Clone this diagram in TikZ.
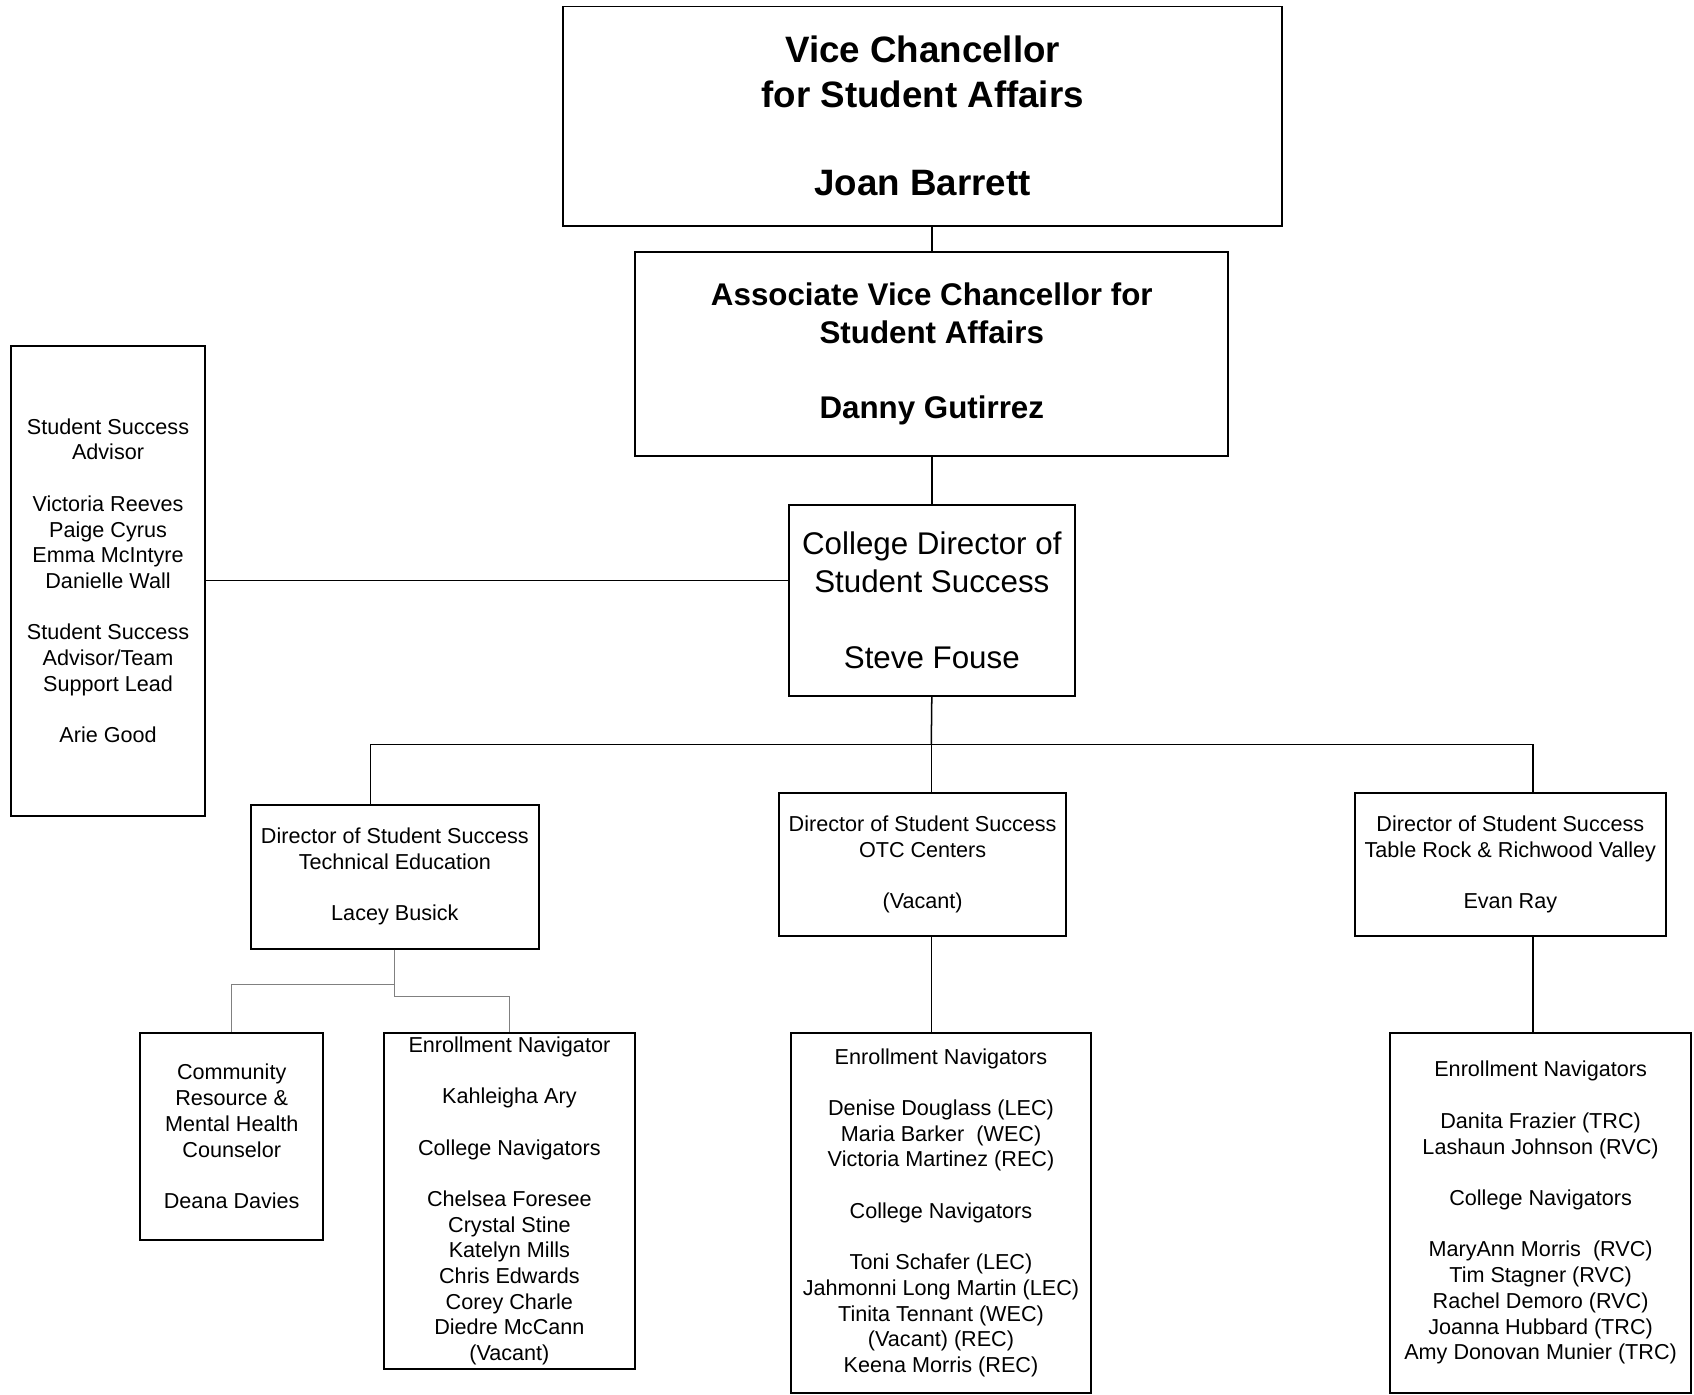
\documentclass[tikz,border=0pt]{standalone}
\usepackage{fontspec}
\setmainfont{Liberation Sans}
\usetikzlibrary{positioning,calc}

\begin{document}
\begin{tikzpicture}[x=0.5pt, y=-0.5pt,
    box/.style={draw, line width=0.9pt, inner sep=0pt, align=center},
    small/.style={box, font=\fontsize{10}{11.9}\selectfont},
    link/.style={line width=0.7pt},
    sublink/.style={line width=0.5pt, gray}]
    \useasboundingbox (0,0) rectangle (1568,1291);

    % Top of the chart
    \node[box, minimum width=333pt, minimum height=101.5pt,
      font=\fontsize{17}{20.5}\selectfont\bfseries] (vc) at (854,107.5)
      {Vice Chancellor\\for Student Affairs\\[\baselineskip]Joan Barrett};
    \node[box, minimum width=274.5pt, minimum height=94.5pt,
      font=\fontsize{14.5}{17.5}\selectfont\bfseries] (avc) at (862.5,327.5)
      {Associate Vice Chancellor for\\Student Affairs\\[\baselineskip]Danny Gutirrez};
    \node[box, minimum width=132.5pt, minimum height=88.5pt,
      font=\fontsize{14.5}{17.5}\selectfont] (cdir) at (862.5,555.5)
      {College Director of\\Student Success\\[\baselineskip]Steve Fouse};

    % Advisors on the left
    \node[small, minimum width=90pt, minimum height=217.5pt] (advisors) at (100,537.5)
      {Student Success\\Advisor\\[\baselineskip]Victoria Reeves\\Paige Cyrus\\Emma McIntyre\\Danielle Wall\\[\baselineskip]Student Success\\Advisor/Team\\Support Lead\\[\baselineskip]Arie Good};

    % Directors
    \node[small, minimum width=133.5pt, minimum height=66.5pt] (dtech) at (365.5,811.5)
      {Director of Student Success\\Technical Education\\[\baselineskip]Lacey Busick};
    \node[small, minimum width=133pt, minimum height=66pt] (dotc) at (854,800)
      {Director of Student Success\\OTC Centers\\[\baselineskip](Vacant)};
    \node[small, minimum width=144pt, minimum height=66pt] (dtrv) at (1398,800)
      {Director of Student Success\\Table Rock \& Richwood Valley\\[\baselineskip]Evan Ray};

    % Staff boxes
    \node[small, minimum width=84.5pt, minimum height=96pt] (counsel) at (214.5,1052)
      {Community\\Resource \&\\Mental Health\\Counselor\\[\baselineskip]Deana Davies};
    \node[small, minimum width=116.5pt, minimum height=155.5pt] (navtech) at (471.5,1111.5)
      {Enrollment Navigator\\[\baselineskip]Kahleigha Ary\\[\baselineskip]College Navigators\\[\baselineskip]Chelsea Foresee\\Crystal Stine\\Katelyn Mills\\Chris Edwards\\Corey Charle\\Diedre McCann\\(Vacant)};
    \node[small, minimum width=139pt, minimum height=166.5pt] (navotc) at (871,1122.5)
      {Enrollment Navigators\\[\baselineskip]Denise Douglass (LEC)\\Maria Barker~ (WEC)\\Victoria Martinez (REC)\\[\baselineskip]College Navigators\\[\baselineskip]Toni Schafer (LEC)\\Jahmonni Long Martin (LEC)\\Tinita Tennant (WEC)\\(Vacant) (REC)\\Keena Morris (REC)};
    \node[small, minimum width=139pt, minimum height=166.5pt] (navtrv) at (1426,1122.5)
      {Enrollment Navigators\\[\baselineskip]Danita Frazier (TRC)\\Lashaun Johnson (RVC)\\[\baselineskip]College Navigators\\[\baselineskip]MaryAnn Morris~ (RVC)\\Tim Stagner (RVC)\\Rachel Demoro (RVC)\\Joanna Hubbard (TRC)\\Amy Donovan Munier (TRC)};

    % Connectors
    \coordinate (bus) at (862,689);
    \coordinate (busL) at (343,689);
    \coordinate (busR) at (1419,689);
    \coordinate (techA) at (365.5,911);
    \coordinate (techB) at (365.5,922.5);
    \draw[link] (avc.north |- vc.south) -- (avc.north);
    \draw[link] (avc.south) -- (cdir.north);
    \draw[link] (advisors.east) -- (advisors.east -| cdir.west);
    \draw[link] (cdir.south) -- (bus);
    \draw[link] (busL) -- (busR);
    \draw[link] (busL) -- (busL |- dtech.north);
    \draw[link] (bus) -- (bus |- dotc.north);
    \draw[link] (busR) -- (busR |- dtrv.north);
    \draw[link] (bus |- dotc.south) -- (bus |- navotc.north);
    \draw[link] (busR |- dtrv.south) -- (busR |- navtrv.north);
    \draw[sublink] (dtech.south) -- (techB) -| (navtech.north);
    \draw[sublink] (techA) -| (counsel.north);
\end{tikzpicture}
\end{document}
